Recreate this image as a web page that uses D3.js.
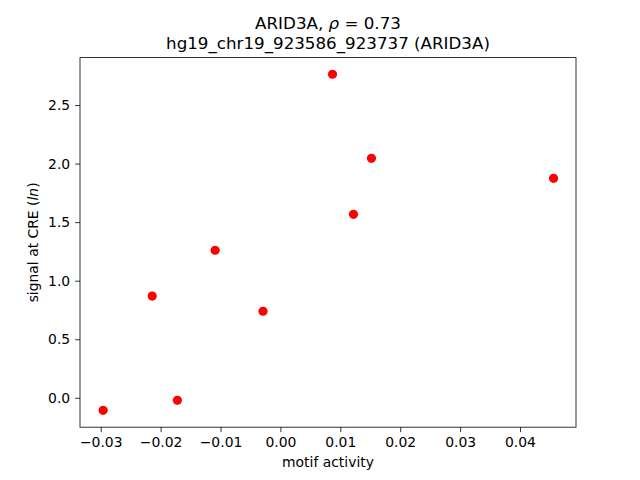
<!DOCTYPE html>
<html>
<head>
<meta charset="utf-8">
<script src="https://cdn.jsdelivr.net/npm/d3@7"></script>
<style>
  body { margin: 0; background: #fff; }
  text { font-family: "DejaVu Sans", sans-serif; fill: #000; }
</style>
</head>
<body>
<div id="chart"></div>
<script>
// data
let motifActivity = [-0.0296, -0.0214, -0.0172, -0.0109, -0.0029, 0.0087, 0.0122, 0.0152, 0.0456]
let creSignal = [-0.107, 0.869, -0.021, 1.260, 0.739, 2.763, 1.567, 2.045, 1.874]
let xTicks = [-0.03, -0.02, -0.01, 0.00, 0.01, 0.02, 0.03, 0.04]
let yTicks = [0.0, 0.5, 1.0, 1.5, 2.0, 2.5]

let width = 640, height = 480
let margin = {top: 57.6, right: 64, bottom: 52.8, left: 80}
let w = width - margin.left - margin.right,
    h = height - margin.top - margin.bottom

let svg = d3.select("#chart").append("svg")
    .attr("width", width)
    .attr("height", height)

let plot = svg.append("g")
    .attr("transform", "translate(" + margin.left + "," + margin.top + ")")

let x = d3.scaleLinear()
  .domain([-0.03346, 0.04935])
  .range([0, w])
let y = d3.scaleLinear()
  .domain([-0.251, 2.905])
  .range([h, 0])

// axes
let xAxis = plot.append("g")
  .attr("transform", "translate(0," + h + ")")
  .call(d3.axisBottom(x).tickValues(xTicks).tickSize(4.9).tickPadding(4.9)
    .tickFormat(d => d3.format(".2f")(d).replace("-", "\u2212")))
let yAxis = plot.append("g")
  .call(d3.axisLeft(y).tickValues(yTicks).tickSize(4.9).tickPadding(4.9)
    .tickFormat(d3.format(".1f")))

;[xAxis, yAxis].forEach(a => {
  a.select(".domain").remove()
  a.selectAll("text").style("font-size", "13.9px").style("font-family", "DejaVu Sans")
  a.selectAll("line").attr("stroke", "#000").attr("stroke-width", 0.8)
})

// frame
plot.append("rect")
  .attr("width", w)
  .attr("height", h)
  .attr("fill", "none")
  .attr("stroke", "#000")
  .attr("stroke-width", 0.8)

// points
plot.selectAll(".dot")
  .data(motifActivity.map((v, i) => ({x: v, y: creSignal[i]})))
  .enter()
  .append("circle")
    .attr("class", "dot")
    .attr("cx", d => x(d.x))
    .attr("cy", d => y(d.y))
    .attr("r", 4.6)
    .attr("fill", "#ff0000")

// titles
let title = svg.append("text")
  .attr("x", margin.left + w / 2)
  .attr("y", 29)
  .attr("text-anchor", "middle")
  .style("font-size", "16.7px")
title.append("tspan").text("ARID3A, ")
title.append("tspan").style("font-style", "italic").text("\u03c1")
title.append("tspan").text(" = 0.73")

svg.append("text")
  .attr("x", margin.left + w / 2)
  .attr("y", 48.5)
  .attr("text-anchor", "middle")
  .style("font-size", "16.7px")
  .text("hg19_chr19_923586_923737 (ARID3A)")

svg.append("text")
  .attr("x", margin.left + w / 2)
  .attr("y", 467)
  .attr("text-anchor", "middle")
  .style("font-size", "13.9px")
  .text("motif activity")

let ylab = svg.append("text")
  .attr("transform", "translate(38," + (margin.top + h / 2) + ") rotate(-90)")
  .attr("text-anchor", "middle")
  .style("font-size", "13.9px")
ylab.append("tspan").text("signal at CRE (")
ylab.append("tspan").style("font-style", "italic").text("ln")
ylab.append("tspan").text(")")
</script>
</body>
</html>
